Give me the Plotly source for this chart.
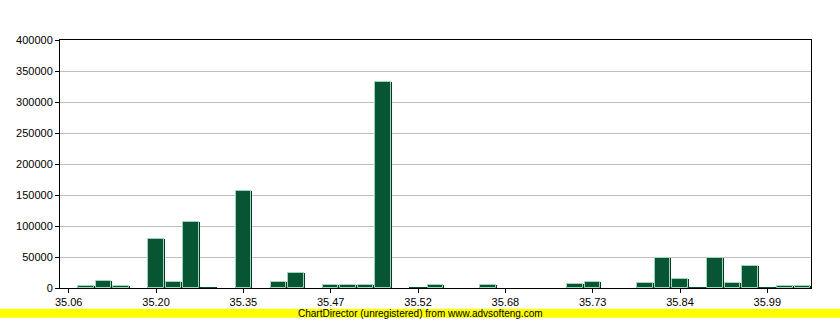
import plotly.graph_objects as go

# slot index of each bar (one bar per bin)
bin_index = list(range(43))
# bar values
values = [0, 4000, 12000, 3000, 0,
          79000, 9000, 106000, 1000, 0,
          156000, 0, 9000, 25000, 0,
          5500, 5500, 5500, 332000, 0,
          1500, 5500, 0, 0, 5500,
          0, 0, 0, 0, 6000,
          9500, 0, 0, 7500, 48000,
          14500, 1000, 49000, 7500, 35000,
          1500, 3000, 3000]
# tick labels (every 5th bin)
tick_bins = [0, 5, 10, 15, 20, 25, 30, 35, 40]
tick_labels = ["35.06", "35.20", "35.35", "35.47", "35.52", "35.68", "35.73", "35.84", "35.99"]
y_ticks = list(range(0, 400001, 50000))

# empty bins get no edge line
edge_w = [1 if v > 2500 else 0 for v in values]

fig = go.Figure()
# dark outer edge
fig.add_trace(go.Bar(x=bin_index, y=values, width=1.0,
                     marker=dict(color="#003a20", line=dict(width=0)),
                     hoverinfo="skip", showlegend=False))
# main bar with light bevel line
fig.add_trace(go.Bar(x=bin_index, y=values, width=0.89,
                     marker=dict(color="#075533", line=dict(color="#9fd6b8", width=edge_w)),
                     showlegend=False))

fig.update_layout(
    width=840, height=320,
    margin=dict(l=60, r=29, t=40, b=30),
    paper_bgcolor="white", plot_bgcolor="white",
    barmode="overlay", bargap=0,
    font=dict(family="Liberation Sans, Arial, sans-serif", size=11, color="#000000"),
    xaxis=dict(range=[-0.5, 42.5], tickmode="array", tickvals=tick_bins, ticktext=tick_labels,
               ticks="outside", ticklen=4, tickcolor="#000", showgrid=False,
               showline=True, linecolor="#000", linewidth=1, mirror=True, zeroline=False),
    yaxis=dict(range=[0, 400000], tickmode="array", tickvals=y_ticks,
               ticktext=[str(v) for v in y_ticks],
               ticks="outside", ticklen=4, tickcolor="#000",
               showgrid=True, gridcolor="#c0c0c0", gridwidth=1,
               showline=True, linecolor="#000", linewidth=1, mirror=True, zeroline=False),
    shapes=[dict(type="rect", xref="paper", yref="paper",
                 x0=-60/751, x1=780/751, y0=-30/250, y1=-21/250,
                 fillcolor="#ffff00", line=dict(width=0), layer="above")],
    annotations=[dict(text="ChartDirector (unregistered) from www.advsofteng.com",
                      xref="paper", yref="paper", x=(420-60)/751, y=-25.5/250,
                      showarrow=False, xanchor="center", yanchor="middle",
                      font=dict(size=10, color="#000"))],
)

fig.write_html("out.html")
